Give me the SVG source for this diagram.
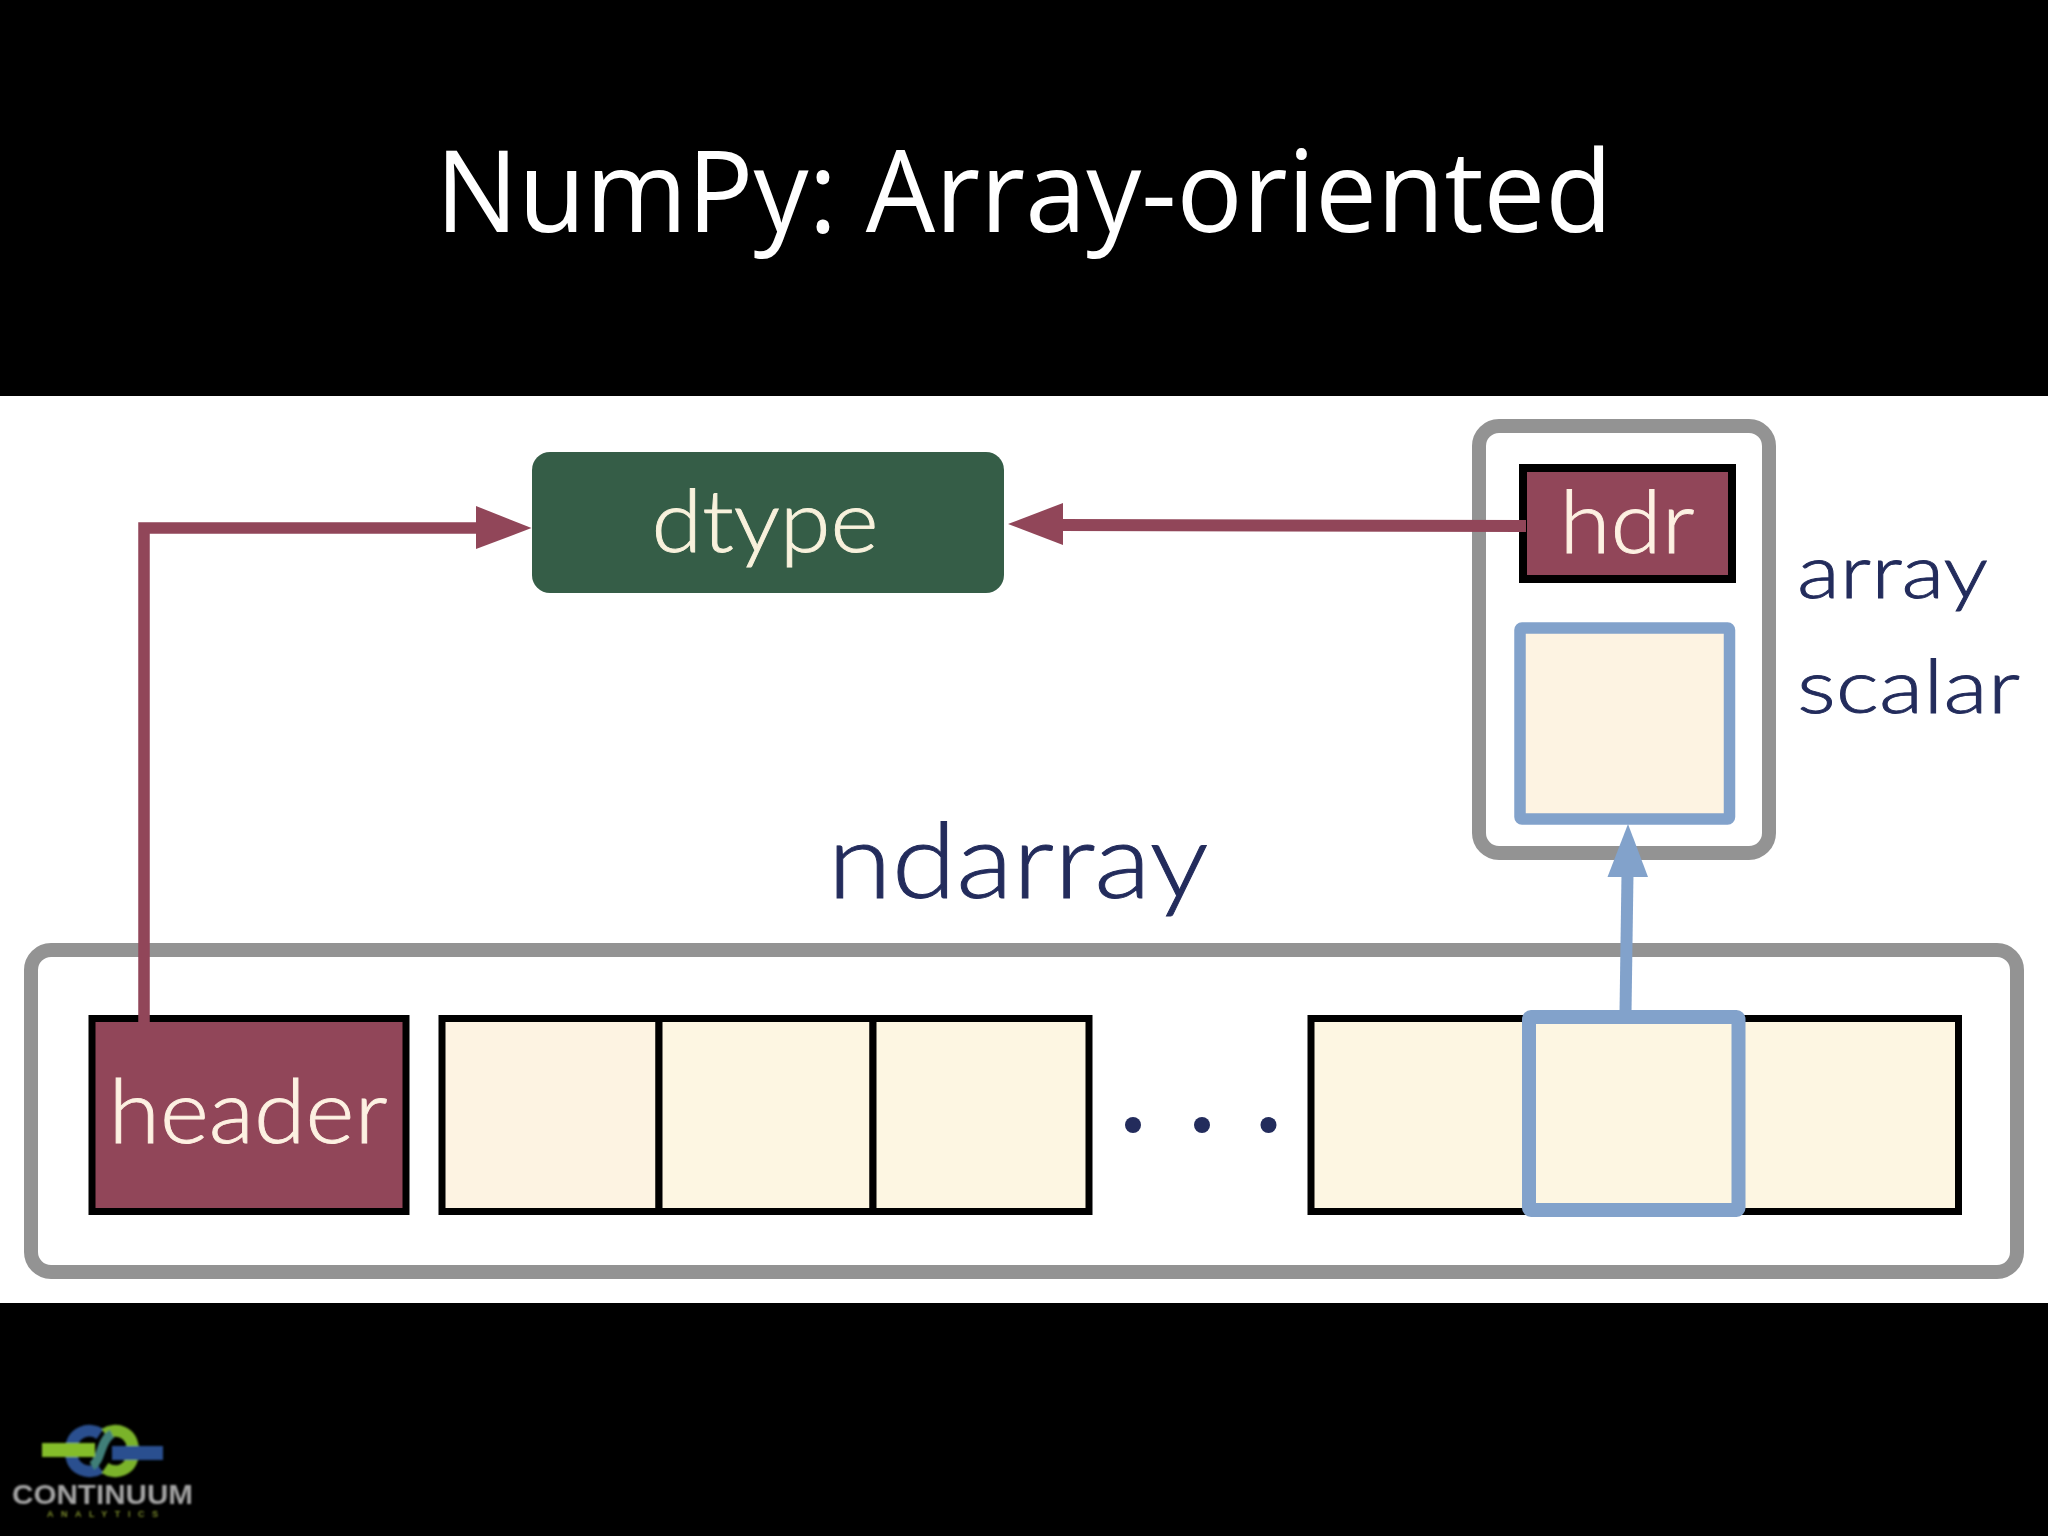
<svg xmlns="http://www.w3.org/2000/svg" width="2048" height="1536" viewBox="0 0 2048 1536">
<defs>
<style>
.lbl{font-family:"Lato","Open Sans","Liberation Sans",sans-serif;font-weight:300;stroke-width:.9}
.navy{fill:#232c5c;stroke:#232c5c}
.cream{fill:#fdf1e2;stroke:#fdf1e2}
.frame{fill:#fff;stroke:#939393;stroke-width:14}
.cell{fill:#fdf3e2;stroke:#000;stroke-width:7}
.cell2{fill:#fdf6e2;stroke:#000;stroke-width:7}
.hdr{fill:#914659;stroke:#000}
.blue{fill:#fdf3e2;stroke:#82a2cb}
.wire{fill:none;stroke:#914659;stroke-width:11.5}
</style>
<filter id="soft" x="-10%" y="-10%" width="120%" height="120%"><feGaussianBlur stdDeviation="0.8"/></filter>
</defs>
<rect width="2048" height="1536" fill="#000"/>
<rect y="396" width="2048" height="907" fill="#fff"/>
<text id="title" x="1024" y="232" text-anchor="middle" font-family="'Open Sans','Liberation Sans',sans-serif" font-size="114" fill="#fff" textLength="1177" lengthAdjust="spacingAndGlyphs">NumPy: Array-oriented</text>

<g id="ndarray-frame"><rect class="frame" x="31" y="950" width="1986" height="322" rx="20"/></g>
<g id="array-scalar-frame"><rect class="frame" x="1479" y="426" width="290" height="427" rx="20"/></g>
<g id="ndarray-label"><text class="lbl navy" x="1018" y="898" text-anchor="middle" font-size="104" textLength="381" lengthAdjust="spacingAndGlyphs">ndarray</text></g>
<g id="array-scalar-label">
<text class="lbl navy" x="1797" y="598" font-size="75" textLength="191" lengthAdjust="spacingAndGlyphs">array</text>
<text class="lbl navy" x="1797" y="713" font-size="75" textLength="223" lengthAdjust="spacingAndGlyphs">scalar</text>
</g>

<g id="dtype">
<rect x="532" y="452" width="472" height="141" rx="18" fill="#355d47"/>
<text class="lbl" fill="#f8f1dc" stroke="#f8f1dc" x="765" y="552" text-anchor="middle" font-size="87" textLength="227" lengthAdjust="spacingAndGlyphs">dtype</text>
</g>
<g id="header">
<rect class="hdr" stroke-width="7" x="92" y="1018.500" width="314" height="193"/>
<text class="lbl cream" x="248" y="1143" text-anchor="middle" font-size="89" textLength="279" lengthAdjust="spacingAndGlyphs">header</text>
</g>
<g id="cells-left">
<rect class="cell" x="442" y="1018.500" width="217" height="193"/>
<rect class="cell2" x="659" y="1018.500" width="214" height="193"/>
<rect class="cell2" x="873" y="1018.500" width="216" height="193"/>
</g>
<g id="dots" fill="#232c5c">
<circle cx="1133" cy="1125" r="8"/><circle cx="1202" cy="1125" r="8"/><circle cx="1268.500" cy="1125" r="8"/>
</g>
<g id="cells-right">
<rect class="cell2" x="1311" y="1018.500" width="647.500" height="193"/>
</g>
<g id="selected-cell"><rect class="blue" style="fill:#fdf6e2" stroke-width="14" x="1529" y="1017" width="209.500" height="193" rx="2"/></g>
<g id="hdr">
<rect class="hdr" stroke-width="8" x="1523" y="468" width="209" height="111"/>
<text class="lbl cream" x="1627" y="553" text-anchor="middle" font-size="87" textLength="135" lengthAdjust="spacingAndGlyphs">hdr</text>
</g>
<g id="scalar-cell"><rect class="blue" stroke-width="11.500" x="1520" y="628" width="209.500" height="191" rx="2"/></g>

<g id="connectors">
<path class="wire" d="M144 1022V528H480"/>
<polygon fill="#914659" points="476,506 531.500,528 476,549"/>
<path class="wire" style="stroke-width:12" d="M1526 526L1060 525"/>
<polygon fill="#914659" points="1063,503 1008,524 1063,545"/>
<path fill="none" stroke="#82a2cb" stroke-width="12" d="M1625.500 1012L1627.500 874"/>
<polygon fill="#82a2cb" points="1628,824 1648,877 1607.500,877"/>
</g>

<g id="logo">
<g filter="url(#soft)" fill="none">
<path stroke="#2c4f8f" stroke-width="12" d="M100 1434C90 1427 71 1431 71 1451C71 1471 90 1475 100 1468"/>
<path stroke="#7ab32c" stroke-width="12" d="M105 1468C115 1475 133 1471 133 1451C133 1431 115 1427 105 1434"/>
<path stroke="#3f7f78" stroke-width="9" d="M92 1466C102 1460 100 1440 112 1434"/>
<rect x="42" y="1443" width="53" height="14" fill="#84bd2c"/>
<rect x="112" y="1446" width="51" height="14" fill="#2c4f8f"/>
<text x="102.500" y="1504" text-anchor="middle" fill="#a4a4a4" font-family="'Liberation Sans',sans-serif" font-weight="700" font-size="28" textLength="181" lengthAdjust="spacingAndGlyphs">CONTINUUM</text>
<text x="102.500" y="1517" text-anchor="middle" fill="#7c8c2c" font-family="'Liberation Sans',sans-serif" font-weight="700" font-size="9" textLength="111">ANALYTICS</text>
</g>
</g>
</svg>
